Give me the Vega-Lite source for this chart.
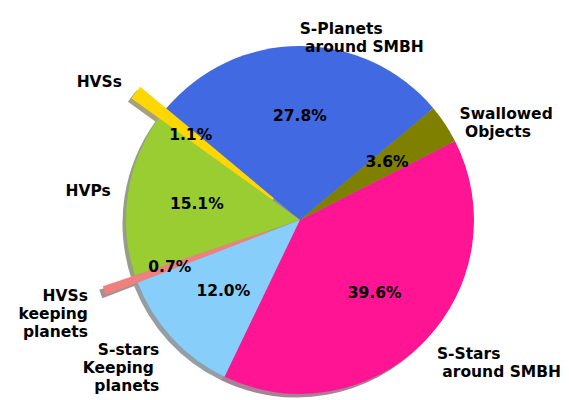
{
  "$schema": "https://vega.github.io/schema/vega-lite/v6.json",
  "width": 538,
  "height": 360,
  "padding": {"left": 31, "top": 40, "right": 0, "bottom": 0},
  "autosize": {"type": "none"},
  "background": "white",
  "config": {"view": {"stroke": null}},
  "data": {
    "values": [
      {"order": 1, "name": "S-Planets around SMBH", "label": "S-Planets\n\u200b\u00a0around SMBH", "pct": "27.8%", "value": 27.8},
      {"order": 2, "name": "HVSs", "label": "HVSs", "pct": "1.1%", "value": 1.1},
      {"order": 3, "name": "HVPs", "label": "HVPs", "pct": "15.1%", "value": 15.1},
      {"order": 4, "name": "HVSs keeping planets", "label": "HVSs\nkeeping\nplanets", "pct": "0.7%", "value": 0.7},
      {"order": 5, "name": "S-stars Keeping planets", "label": "S-stars\nKeeping\u00a0\u200b\nplanets", "pct": "12.0%", "value": 12.0},
      {"order": 6, "name": "S-Stars around SMBH", "label": "S-Stars\n\u200b\u00a0around SMBH", "pct": "39.6%", "value": 39.6},
      {"order": 7, "name": "Swallowed Objects", "label": "Swallowed\n\u200b\u00a0Objects", "pct": "3.6%", "value": 3.6}
    ]
  },
  "resolve": {"scale": {"color": "independent", "theta": "shared"}},
  "layer": [
    {
      "mark": {"type": "arc", "outerRadius": 174, "xOffset": -3.5, "yOffset": 3.5},
      "encoding": {
        "theta": {"field": "value", "type": "quantitative", "stack": true, "scale": {"range": [0.87266, -5.41052]}},
        "order": {"field": "order", "type": "quantitative"},
        "color": {"field": "name", "type": "nominal", "legend": null,
          "scale": {"domain": ["S-Planets around SMBH", "HVSs", "HVPs", "HVSs keeping planets", "S-stars Keeping planets", "S-Stars around SMBH", "Swallowed Objects"],
                    "range": ["#142044", "#4D4100", "#2E3E0F", "#482626", "#293E4B", "#4D062C", "#262600"]}},
        "opacity": {"condition": {"test": "datum.name === 'HVSs' || datum.name === 'HVSs keeping planets'", "value": 0}, "value": 0.5}
      }
    },
    {
      "mark": {"type": "arc", "outerRadius": 208, "innerRadius": 34, "xOffset": -3.5, "yOffset": 3.5},
      "encoding": {
        "theta": {"field": "value", "type": "quantitative", "stack": true},
        "order": {"field": "order", "type": "quantitative"},
        "color": {"field": "name", "type": "nominal", "legend": null,
          "scale": {"domain": ["S-Planets around SMBH", "HVSs", "HVPs", "HVSs keeping planets", "S-stars Keeping planets", "S-Stars around SMBH", "Swallowed Objects"],
                    "range": ["#142044", "#4D4100", "#2E3E0F", "#482626", "#293E4B", "#4D062C", "#262600"]}},
        "opacity": {"condition": {"test": "datum.name === 'HVSs' || datum.name === 'HVSs keeping planets'", "value": 0.5}, "value": 0}
      }
    },
    {
      "mark": {"type": "arc", "outerRadius": 174},
      "encoding": {
        "theta": {"field": "value", "type": "quantitative", "stack": true},
        "order": {"field": "order", "type": "quantitative"},
        "color": {"field": "name", "type": "nominal", "legend": null,
          "scale": {"domain": ["S-Planets around SMBH", "HVSs", "HVPs", "HVSs keeping planets", "S-stars Keeping planets", "S-Stars around SMBH", "Swallowed Objects"],
                    "range": ["#4169E1", "#FFD700", "#9ACD32", "#F08080", "#87CEFA", "#FF1493", "#808000"]}},
        "opacity": {"condition": {"test": "datum.name === 'HVSs' || datum.name === 'HVSs keeping planets'", "value": 0}, "value": 1}
      }
    },
    {
      "mark": {"type": "arc", "outerRadius": 208, "innerRadius": 34},
      "encoding": {
        "theta": {"field": "value", "type": "quantitative", "stack": true},
        "order": {"field": "order", "type": "quantitative"},
        "color": {"field": "name", "type": "nominal", "legend": null,
          "scale": {"domain": ["S-Planets around SMBH", "HVSs", "HVPs", "HVSs keeping planets", "S-stars Keeping planets", "S-Stars around SMBH", "Swallowed Objects"],
                    "range": ["#4169E1", "#FFD700", "#9ACD32", "#F08080", "#87CEFA", "#FF1493", "#808000"]}},
        "opacity": {"condition": {"test": "datum.name === 'HVSs' || datum.name === 'HVSs keeping planets'", "value": 1}, "value": 0}
      }
    },
    {
      "mark": {"type": "text", "radius": 104.4, "font": "DejaVu Sans", "fontWeight": "bold", "fontSize": 15.5, "align": "center", "baseline": "middle", "color": "black"},
      "encoding": {
        "theta": {"field": "value", "type": "quantitative", "stack": true},
        "order": {"field": "order", "type": "quantitative"},
        "text": {"condition": {"test": "!(datum.name === 'HVSs' || datum.name === 'HVSs keeping planets')", "field": "pct"}, "value": ""}
      }
    },
    {
      "mark": {"type": "text", "radius": 138.4, "font": "DejaVu Sans", "fontWeight": "bold", "fontSize": 15.5, "align": "center", "baseline": "middle", "color": "black"},
      "encoding": {
        "theta": {"field": "value", "type": "quantitative", "stack": true},
        "order": {"field": "order", "type": "quantitative"},
        "text": {"condition": {"test": "datum.name === 'HVSs' || datum.name === 'HVSs keeping planets'", "field": "pct"}, "value": ""}
      }
    },
    {
      "mark": {"type": "text", "radius": 191.4, "font": "DejaVu Sans", "fontWeight": "bold", "fontSize": 15.5, "align": "left", "baseline": "middle", "lineBreak": "\n", "lineHeight": 18, "color": "black"},
      "encoding": {
        "theta": {"field": "value", "type": "quantitative", "stack": true},
        "order": {"field": "order", "type": "quantitative"},
        "text": {"condition": {"test": "datum.name === 'S-Planets around SMBH' || datum.name === 'S-Stars around SMBH' || datum.name === 'Swallowed Objects'", "field": "label"}, "value": ""}
      }
    },
    {
      "mark": {"type": "text", "radius": 191.4, "font": "DejaVu Sans", "fontWeight": "bold", "fontSize": 15.5, "align": "right", "baseline": "middle", "lineBreak": "\n", "lineHeight": 18, "color": "black"},
      "encoding": {
        "theta": {"field": "value", "type": "quantitative", "stack": true},
        "order": {"field": "order", "type": "quantitative"},
        "text": {"condition": {"test": "datum.name === 'HVPs' || datum.name === 'S-stars Keeping planets'", "field": "label"}, "value": ""}
      }
    },
    {
      "mark": {"type": "text", "radius": 225.4, "font": "DejaVu Sans", "fontWeight": "bold", "fontSize": 15.5, "align": "right", "baseline": "middle", "lineBreak": "\n", "lineHeight": 18, "color": "black"},
      "encoding": {
        "theta": {"field": "value", "type": "quantitative", "stack": true},
        "order": {"field": "order", "type": "quantitative"},
        "text": {"condition": {"test": "datum.name === 'HVSs' || datum.name === 'HVSs keeping planets'", "field": "label"}, "value": ""}
      }
    }
  ]
}
